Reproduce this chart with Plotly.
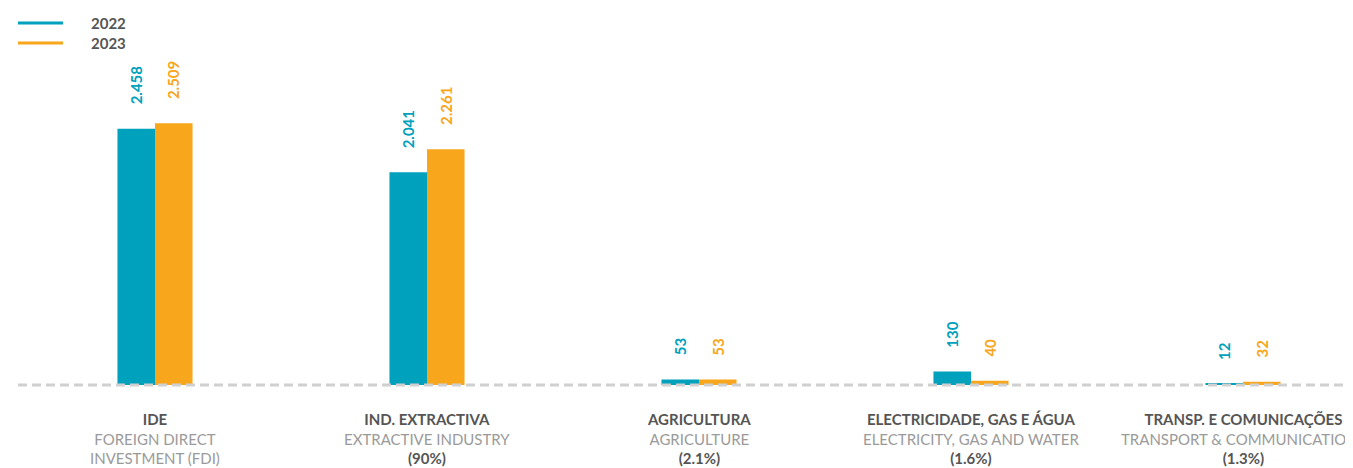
import plotly.graph_objects as go

# ---- data ----
cat_pt = ["IDE", "IND. EXTRACTIVA", "AGRICULTURA", "ELECTRICIDADE, GAS E ÁGUA", "TRANSP. E COMUNICAÇÕES"]
cat_en = ["FOREIGN DIRECT", "EXTRACTIVE INDUSTRY", "AGRICULTURE", "ELECTRICITY, GAS AND WATER", "TRANSPORT & COMMUNICATIONS"]
cat_third = ["INVESTMENT (FDI)", "(90%)", "(2.1%)", "(1.6%)", "(1.3%)"]
years = ["2022", "2023"]
values_2022 = [2458, 2041, 53, 130, 12]
values_2023 = [2509, 2261, 53, 40, 32]

# ---- style ----
OFF = 8  # page body margin
W, H = 1353 - OFF, 468 - OFF
ML, MR, MT, MB = 19 - OFF, 0, 50 - OFF, 83
PW, PH = W - ML - MR, H - MT - MB
TEAL = "#00a1bd"
ORANGE = "#f8a61b"
DARK = "#555555"
GRAY = "#9a9a9a"
FONT = "Lato"

xs = list(range(len(cat_pt)))
fig = go.Figure()
for vals, col in [(values_2022, TEAL), (values_2023, ORANGE)]:
    fig.add_trace(go.Bar(x=xs, y=vals, marker=dict(color=col, line=dict(width=0)),
                         showlegend=False, hoverinfo="skip"))

bargap = 0.724
half = (1 - bargap) / 4.0
annotations = []
for vals, col, sign in [(values_2022, TEAL, -1), (values_2023, ORANGE, 1)]:
    for i, v in enumerate(vals):
        annotations.append(dict(
            x=i + sign * half, y=v, xref="x", yref="y",
            text=f"<b>{v:,}</b>".replace(",", "."), textangle=-90,
            showarrow=False, yanchor="bottom", xanchor="center", yshift=22,
            font=dict(family=FONT, size=15, color=col)))

for i in xs:
    third_col = GRAY if i == 0 else DARK
    third_w = 400 if i == 0 else 700
    txt = (f"<span style='color:{DARK};font-weight:700'>{cat_pt[i]}</span><br>"
           f"<span style='color:{GRAY}'>{cat_en[i]}</span><br>"
           f"<span style='color:{third_col};font-weight:{third_w}'>{cat_third[i]}</span>")
    annotations.append(dict(
        x=i, y=0, xref="x", yref="y", text=txt, showarrow=False,
        yanchor="top", xanchor="center", yshift=-23,
        font=dict(family=FONT, size=15, color=DARK)))

def px_to_paper_x(px):
    return (px - OFF - ML) / PW

def px_to_paper_y(py):
    return (H - MB - (py - OFF)) / PH

shapes = [dict(type="line", xref="paper", yref="paper", x0=px_to_paper_x(18), x1=1.0, y0=0, y1=0,
               line=dict(color="#d0d0d0", width=3, dash="9px,5px"), layer="above")]
for j, (yr, col) in enumerate(zip(years, [TEAL, ORANGE])):
    ypx = 23 + 20 * j
    shapes.append(dict(type="line", xref="paper", yref="paper",
                       x0=px_to_paper_x(18), x1=px_to_paper_x(63),
                       y0=px_to_paper_y(ypx), y1=px_to_paper_y(ypx),
                       line=dict(color=col, width=3)))
    annotations.append(dict(x=px_to_paper_x(89), y=px_to_paper_y(ypx), xref="paper", yref="paper",
                            text=f"<b>{yr}</b>", showarrow=False, xanchor="left", yanchor="middle",
                            font=dict(family=FONT, size=15, color=DARK)))

fig.update_layout(
    width=W, height=H, margin=dict(l=ML, r=MR, t=MT, b=MB),
    plot_bgcolor="white", paper_bgcolor="white",
    barmode="group", bargap=bargap, bargroupgap=0,
    xaxis=dict(range=[-0.5, 4.5 - (1379 - 1353) / 272.0], visible=False, fixedrange=True),
    yaxis=dict(range=[0, 3212], visible=False, fixedrange=True),
    annotations=annotations, shapes=shapes, showlegend=False,
    font=dict(family=FONT),
)
fig.write_html("out.html")
